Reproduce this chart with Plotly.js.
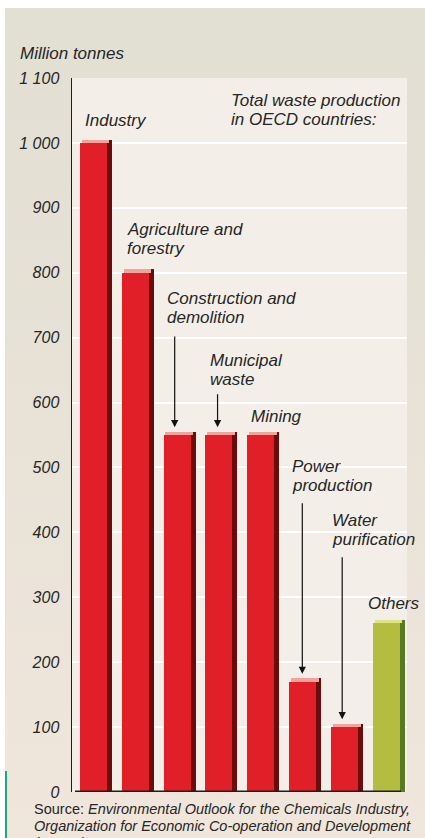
<!DOCTYPE html>
<html>
<head>
<meta charset="utf-8">
<script src="https://cdn.plot.ly/plotly-3.0.1.min.js"></script>
<style>
  html, body { margin: 0; padding: 0; background: #ffffff; width: 425px; height: 838px; overflow: hidden; }
  #chart { position: absolute; left: 5px; top: 8px; width: 420px; height: 830px;
           background: linear-gradient(180deg, #e2dfd3 0%, #e8e2d7 50%, #f0e6dc 100%); }
</style>
</head>
<body>
<div id="chart"></div>
<script>
// ---- data ----
const categories = ['Industry', 'Agriculture and forestry', 'Construction and demolition',
                    'Municipal waste', 'Mining', 'Power production', 'Water purification', 'Others'];
const labelText = ['Industry', 'Agriculture and<br>forestry', 'Construction and<br>demolition',
                   'Municipal<br>waste', 'Mining', 'Power<br>production', 'Water<br>purification', 'Others'];
const values = [1000, 800, 550, 550, 550, 170, 100, 260];   // million tonnes
const tickValues = [0, 100, 200, 300, 400, 500, 600, 700, 800, 900, 1000, 1100];
const tickLabels = ['0', '100', '200', '300', '400', '500', '600', '700', '800', '900', '1 000', '1 100'];
const yTitle = 'Million tonnes';
const boxTitle = 'Total waste production<br>in OECD countries:';
const sourceLines = ['Source: <i>Environmental Outlook for the Chemicals Industry,</i>',
                     '<i>Organization for Economic Co-operation and Development</i>',
                     '<i>(OECD), 2001</i>'];

// ---- styling ----
const FONT = '"Liberation Sans", Arial, Helvetica, sans-serif';
const TXT = '#262626';
const PLOT_BG = '#f3efe8';
const LABEL_SIZE = 17;
const LINE_PX = 19;
const isOther = categories.map(c => c === 'Others');
const frontCol = isOther.map(o => o ? '#b4bd3f' : '#e01f28');
const sideCol  = isOther.map(o => o ? '#577b22' : '#6d0a0a');
const topCol   = isOther.map(o => o ? '#dfe383' : '#f2a39b');
const CAP = 5; // 3-D cap thickness in value units

const side = {
  type: 'bar', x: categories, y: values.map(v => v + CAP), base: 0,
  offset: 0.33, width: 0.12, marker: { color: sideCol, line: { width: 0 } },
  hoverinfo: 'skip', showlegend: false
};
const cap = {
  type: 'bar', x: categories, y: values.map(() => CAP), base: values,
  offset: -0.27, width: 0.66, marker: { color: topCol, line: { width: 0 } },
  hoverinfo: 'skip', showlegend: false
};
const front = {
  type: 'bar', x: categories, y: values,
  offset: -0.315, width: 0.645, marker: { color: frontCol, line: { width: 0 } },
  hoverinfo: 'skip', showlegend: false
};

// label placement (layout only): [xshift px, y centre in axis units]
const labelPlace = [[-10, 1034], [-10, 852], [-12, 746], [-11, 650], [-11, 578], [-12, 487], [-14, 404], [-20, 291]];
// arrows: index -> tail y (axis units), xshift
const arrows = [[2, 704, -2], [3, 615, -1], [5, 447, 0], [6, 364, -2]];

const annotations = [];
function multiLine(base, text) {
  const lines = text.split('<br>');
  const n = lines.length;
  lines.forEach((ln, k) => {
    annotations.push(Object.assign({}, base, {
      text: '<i>' + ln + '</i>', yshift: ((n - 1) / 2 - k) * LINE_PX
    }));
  });
}
categories.forEach((c, i) => {
  multiLine({
    xref: 'x', yref: 'y', x: c, y: labelPlace[i][1], xanchor: 'left', yanchor: 'middle',
    xshift: labelPlace[i][0], showarrow: false, align: 'left',
    font: { family: FONT, size: LABEL_SIZE, color: TXT }
  }, labelText[i]);
});
arrows.forEach(a => {
  const i = a[0];
  annotations.push({
    xref: 'x', yref: 'y', x: categories[i], y: values[i] + 12, ax: 0, ay: a[1], ayref: 'y',
    xshift: a[2], text: '', showarrow: true, arrowhead: 2, arrowsize: 1.2, arrowwidth: 1.2, arrowcolor: '#111'
  });
});
multiLine({
  xref: 'paper', yref: 'y', x: (229 - 72) / 335, y: 1051, xanchor: 'left', yanchor: 'middle',
  showarrow: false, align: 'left', font: { family: FONT, size: LABEL_SIZE, color: TXT }
}, boxTitle);
annotations.push({
  xref: 'paper', yref: 'paper', x: (18 - 72) / 335, y: 1 + (78 - 54) / 714, xanchor: 'left', yanchor: 'middle',
  text: '<i>' + yTitle + '</i>', showarrow: false, font: { family: FONT, size: 17, color: TXT }
});
sourceLines.forEach((s, k) => {
  annotations.push({
    xref: 'paper', yref: 'paper', x: (32 - 72) / 335, y: -(809 + 17 * k - 792) / 714,
    xanchor: 'left', yanchor: 'middle', text: s, showarrow: false, align: 'left',
    font: { family: FONT, size: 14.5, color: TXT }
  });
});

const shapes = [
  // hide grid where the box title sits, and the top edge line
  { type: 'rect', layer: 'between', xref: 'paper', yref: 'y', x0: (219 - 72) / 335, x1: 1, y0: 990, y1: 1010,
    fillcolor: PLOT_BG, line: { width: 0 } },
  { type: 'rect', layer: 'between', xref: 'paper', yref: 'y', x0: 0.006, x1: 1, y0: 1090, y1: 1100,
    fillcolor: PLOT_BG, line: { width: 0 } },
  // baseline
  { type: 'line', xref: 'paper', yref: 'y', x0: (75 - 72) / 335, x1: (401 - 72) / 335, y0: 0, y1: 0,
    line: { color: '#1e1e1e', width: 3 } },
  // teal accent at left
  { type: 'line', xref: 'paper', yref: 'paper', x0: (6 - 72) / 335, x1: (6 - 72) / 335,
    y0: (792 - 771) / 714, y1: -(838 - 792) / 714, line: { color: '#16a98c', width: 2 } }
];

const layout = {
  width: 420, height: 830,
  margin: { l: 67, r: 18, t: 70, b: 46 },
  paper_bgcolor: 'rgba(0,0,0,0)',
  plot_bgcolor: PLOT_BG,
  barmode: 'overlay',
  bargap: 0,
  font: { family: FONT, color: TXT },
  xaxis: { type: 'category', range: [-0.5, 7.5], showticklabels: false, showgrid: false,
           zeroline: false, showline: false, ticks: '', fixedrange: true },
  yaxis: { range: [0, 1100], tickvals: tickValues, ticktext: tickLabels,
           showgrid: true, gridcolor: '#ffffff', gridwidth: 2, zeroline: false,
           showline: true, linecolor: '#1e1e1e', linewidth: 1.5,
           ticks: 'outside', ticklen: 8, tickcolor: 'rgba(0,0,0,0)',
           tickfont: { family: FONT, size: 16, color: TXT, style: 'italic' }, fixedrange: true },
  annotations: annotations,
  shapes: shapes
};

Plotly.newPlot('chart', [side, cap, front], layout, { displayModeBar: false, staticPlot: true });
</script>
</body>
</html>
